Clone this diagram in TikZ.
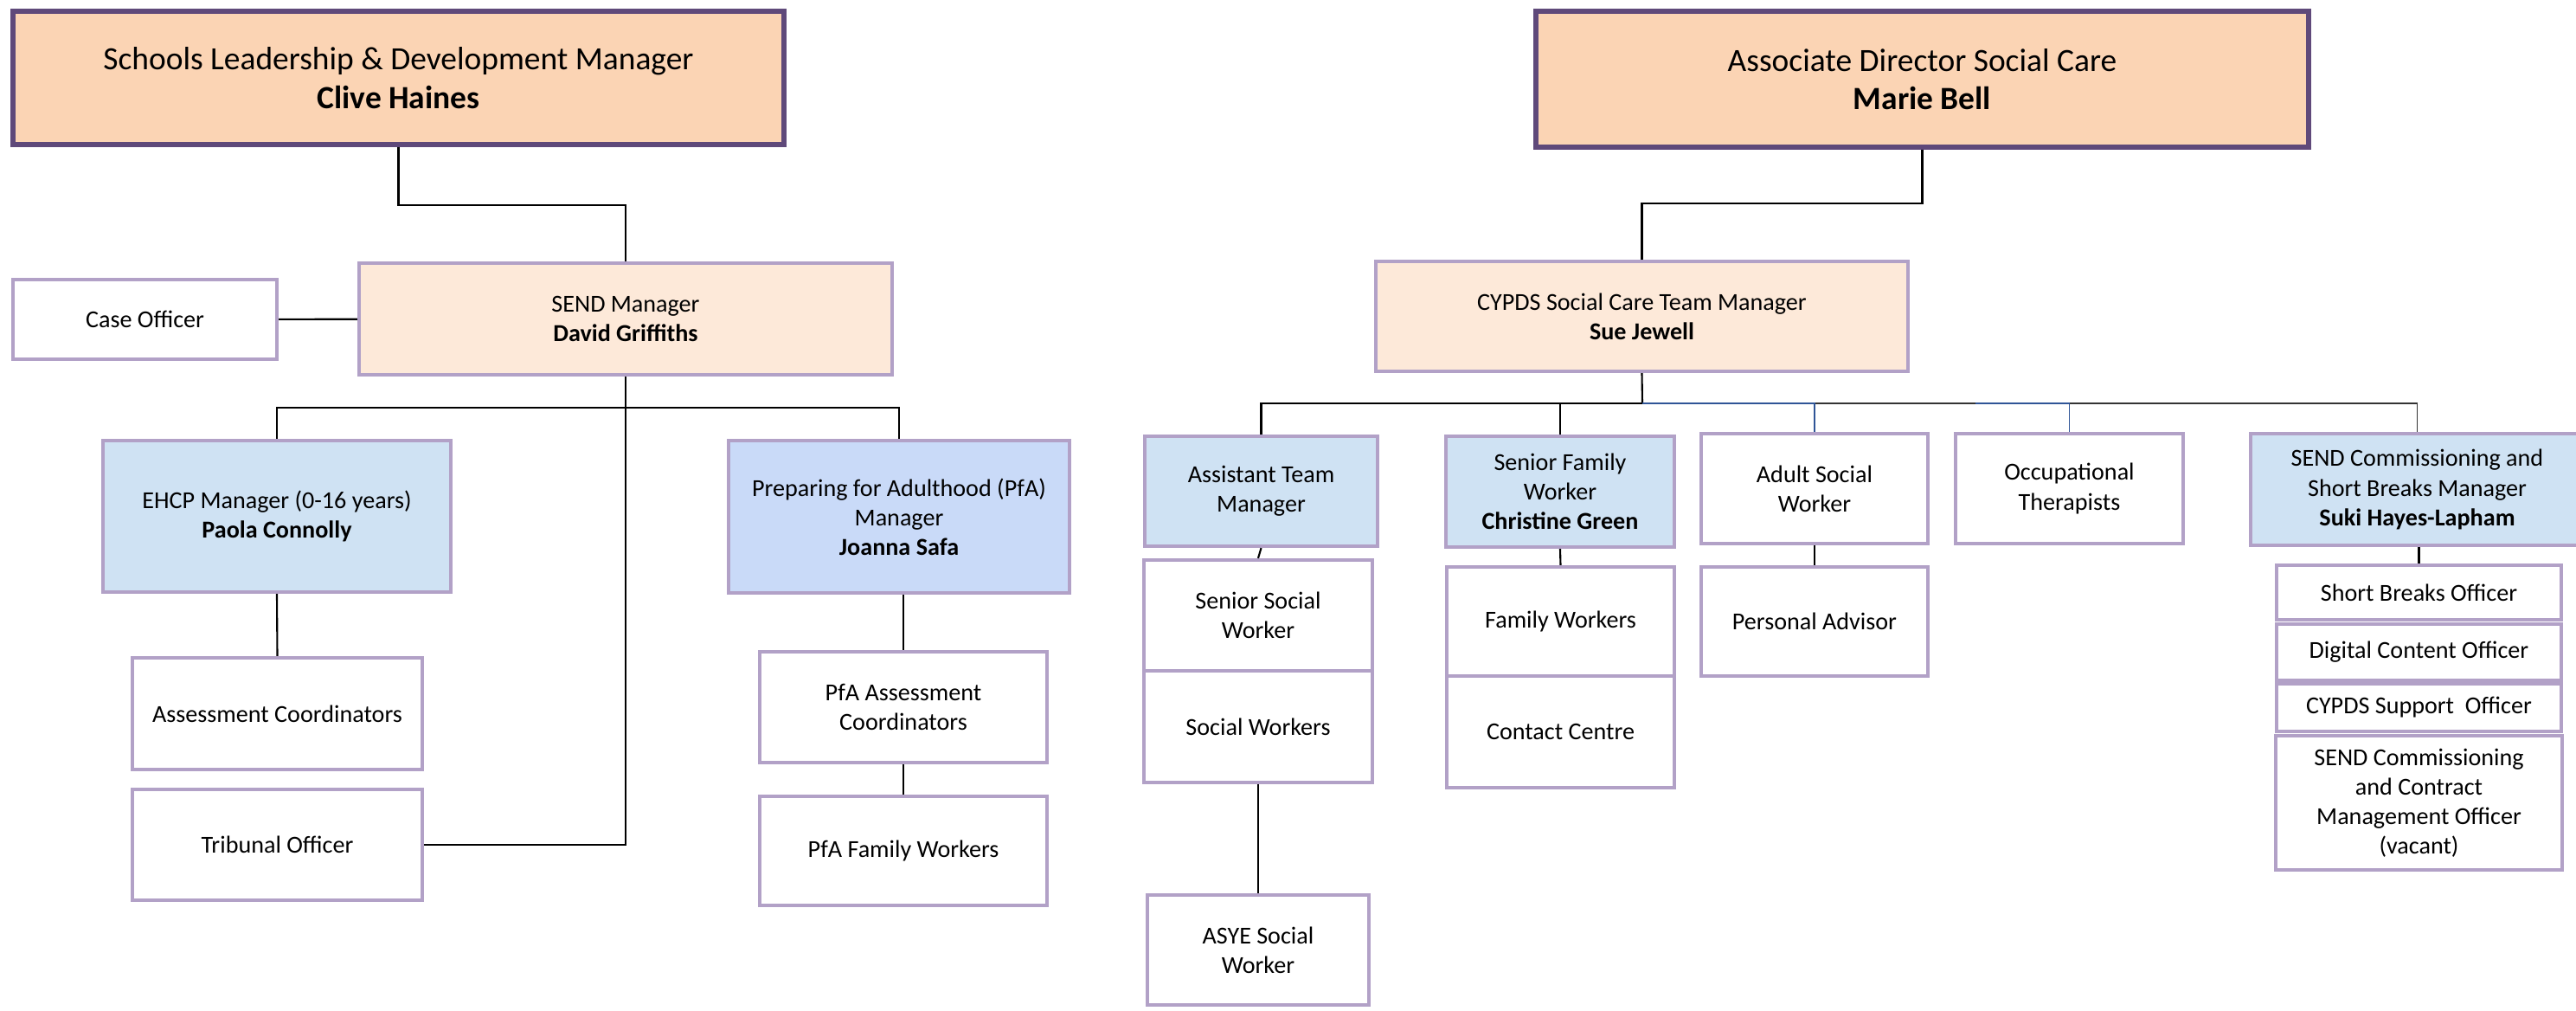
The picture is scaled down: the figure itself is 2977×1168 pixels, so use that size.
\documentclass[tikz,border=0pt]{standalone}
\usepackage{fontspec}
\setmainfont{Carlito}
\definecolor{topborder}{HTML}{5F497A}
\definecolor{lav}{HTML}{B2A1C7}
\definecolor{peach}{HTML}{FBD4B4}
\definecolor{lpeach}{HTML}{FDE9D9}
\definecolor{lblue}{HTML}{CFE2F3}
\definecolor{pblue}{HTML}{C9DAF8}
\definecolor{lnblue}{HTML}{2F5597}
\newcommand\orgbox[7]{%
  \pgfmathsetmacro\orgbw{(#4-#2)*0.01}%
  \pgfmathsetmacro\orgbh{(#5-#3)*0.01}%
  \node[#6, minimum width=\orgbw cm, minimum height=\orgbh cm] (#1) at ({(#2+#4)/2},{(#3+#5)/2}) {#7};}
\tikzset{
  basebox/.style={inner sep=0pt, align=center, font=\fontsize{8}{9.7}\selectfont},
  topbox/.style={basebox, draw=topborder, line width=1.5pt, fill=peach, font=\fontsize{10.65}{12.6}\selectfont},
  peachbox/.style={basebox, draw=lav, line width=1.2pt, fill=lpeach},
  bluebox/.style={basebox, draw=lav, line width=1.2pt, fill=lblue},
  pfabox/.style={basebox, draw=lav, line width=1.2pt, fill=pblue},
  whitebox/.style={basebox, draw=lav, line width=1.2pt, fill=white},
  conn/.style={line width=0.6pt, black},
  bconn/.style={line width=0.45pt, lnblue},
}
\begin{document}
\begin{tikzpicture}[x=0.01cm,y=-0.01cm]
\clip (0,0) rectangle (2977,1168);
\fill[white] (0,0) rectangle (2977,1168);
% left tree
\orgbox{tl}{15}{13}{906}{167}{topbox}{Schools Leadership \& Development Manager\\\textbf{Clive Haines}}
\orgbox{case}{15}{323}{320}{415}{whitebox}{Case Officer}
\orgbox{send}{415}{304}{1031}{433}{peachbox}{SEND Manager\\\textbf{David Griffiths}}
\orgbox{ehcp}{119}{509}{521}{684}{bluebox}{EHCP Manager (0-16 years)\\\textbf{Paola Connolly}}
\orgbox{pfa}{842}{509}{1236}{685}{pfabox}{Preparing for Adulthood (PfA)\\Manager\\\textbf{Joanna Safa}}
\orgbox{ac}{153}{760}{488}{889}{whitebox}{Assessment Coordinators}
\orgbox{trib}{153}{912}{488}{1040}{whitebox}{Tribunal Officer}
\orgbox{pfaac}{878}{753}{1210}{881}{whitebox}{PfA Assessment\\Coordinators}
\orgbox{pfafw}{878}{920}{1210}{1046}{whitebox}{PfA Family Workers}
% right tree
\orgbox{assoc}{1775}{13}{2668}{170}{topbox}{Associate Director Social Care\\\textbf{Marie Bell}}
\orgbox{cypds}{1590}{302}{2205}{429}{peachbox}{CYPDS Social Care Team Manager\\\textbf{Sue Jewell}}
\orgbox{atm}{1323}{504}{1592}{631}{bluebox}{Assistant Team\\Manager}
\orgbox{sfw}{1671}{504}{1935}{632}{bluebox}{Senior Family\\Worker\\\textbf{Christine Green}}
\orgbox{asw}{1966}{501}{2228}{628}{whitebox}{Adult Social\\Worker}
\orgbox{ot}{2260}{501}{2523}{628}{whitebox}{Occupational\\Therapists}
\orgbox{csb}{2601}{501}{2986}{630}{bluebox}{SEND Commissioning and\\Short Breaks Manager\\\textbf{Suki Hayes-Lapham}}
\orgbox{ssw}{1322}{647}{1586}{775}{whitebox}{Senior Social\\Worker}
\orgbox{sw}{1322}{775}{1586}{904}{whitebox}{Social Workers}
\orgbox{asye}{1326}{1034}{1582}{1161}{whitebox}{ASYE Social\\Worker}
\orgbox{fw}{1672}{655}{1935}{781}{whitebox}{Family Workers}
\orgbox{cc}{1672}{781}{1935}{910}{whitebox}{Contact Centre}
\orgbox{pa}{1966}{655}{2228}{781}{whitebox}{Personal Advisor}
\orgbox{sbo}{2631}{653}{2960}{716}{whitebox}{Short Breaks Officer}
\orgbox{dco}{2631}{721}{2960}{786}{whitebox}{Digital Content Officer}
\orgbox{cso}{2631}{790}{2960}{845}{whitebox}{CYPDS Support\ \ Officer}
\orgbox{vac}{2630}{850}{2961}{1005}{whitebox}{SEND Commissioning\\and Contract\\Management Officer\\(vacant)}
% connectors left
\coordinate (lbend) at (600,237);
\coordinate (lbranch) at (722,471);
\draw[conn] (tl.south) |- (lbend) -| (send.north);
\draw[conn] (case) -- (send);
\draw[conn] (send.south) |- (trib.east);
\draw[conn] (ehcp.north) |- (lbranch) -| (pfa.north);
\draw[conn] (ehcp.south) -- (ac.north);
\draw[conn] (pfaac.north) -- (pfaac.north |- pfa.south);
\draw[conn] (pfaac.south) -- (pfafw.north);
% connectors right
\coordinate (rbend) at (2100,235);
\coordinate (rbranch) at (1898,466);
\draw[conn] (assoc.south) |- (rbend) -| (cypds.north);
\draw[conn] (cypds.south) -- (rbranch);
\draw[conn] (atm.north) |- (rbranch);
\draw[line width=0.45pt, black!80] (rbranch) -| (csb.north);
\draw[conn] (sfw.north) -- (sfw.north |- rbranch);
\draw[bconn] (rbranch) -| (asw.north);
\draw[bconn] (ot.north) |- (2283,466);
\draw[conn] (atm.south) -- (ssw.north);
\draw[conn] (sw.south) -- (asye.north);
\draw[conn] (sfw.south) -- (fw.north);
\draw[conn] (asw.south) -- (pa.north);
\draw[conn] (sbo.north) -- (sbo.north |- csb.south);
\end{tikzpicture}
\end{document}
